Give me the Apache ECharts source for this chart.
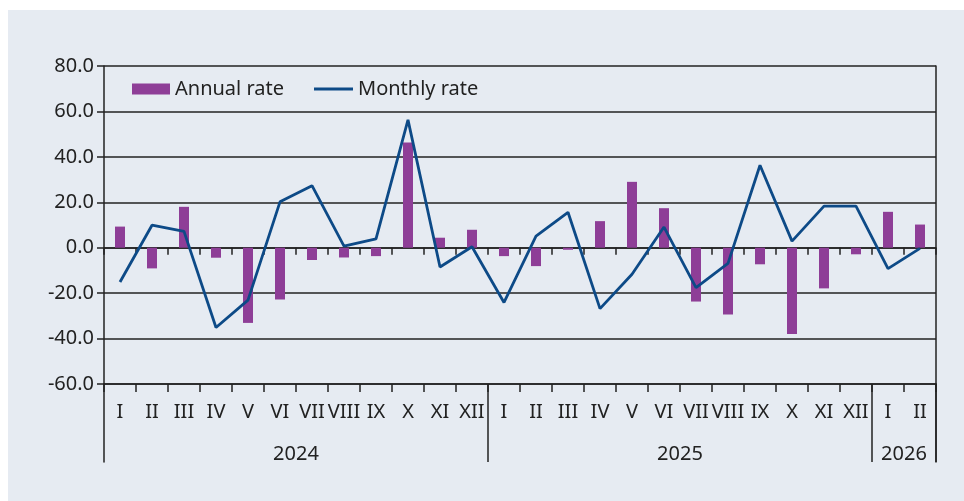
<!DOCTYPE html>
<html>
<head>
<meta charset="utf-8">
<script src="https://cdn.jsdelivr.net/npm/echarts@6/dist/echarts.min.js"></script>
<style>
    html, body { margin: 0; padding: 0; background: #ffffff; }
    .wrap { position: relative; width: 964px; height: 501px; }
    .bg { position: absolute; left: 8px; top: 10px; right: 0; bottom: 0; background: #e6ebf2; }
    #chart { position: absolute; left: 0; top: 0; width: 964px; height: 501px; }
</style>
</head>
<body>
<div class="wrap">
    <div class="bg"></div>
    <div id="chart"></div>
</div>
<script>
// 月份（罗马数字）和年份
const months = ['I', 'II', 'III', 'IV', 'V', 'VI', 'VII', 'VIII', 'IX', 'X', 'XI', 'XII',
    'I', 'II', 'III', 'IV', 'V', 'VI', 'VII', 'VIII', 'IX', 'X', 'XI', 'XII',
    'I', 'II'];
const yearLabels = ['2024', '2025', '2026'];
const yearLabelIndex = [5, 17, 24];
const yearBoundaryIndex = [12, 24];

const annualRate = [9.3, -9.1, 18.0, -4.4, -33.1, -22.8, -5.4, -4.3, -3.7, 46.3, 4.4, 7.9,
    -3.7, -8.1, -0.9, 11.7, 29.0, 17.4, -23.7, -29.4, -7.3, -38.0, -17.9, -2.9,
    15.8, 10.2];
const monthlyRate = [-15.1, 9.9, 7.2, -35.1, -23.1, 20.2, 27.3, 0.7, 3.9, 56.3, -8.5, 0.4,
    -24.1, 5.1, 15.6, -26.8, -11.7, 9.1, -17.6, -6.9, 36.3, 2.9, 18.3, 18.3,
    -9.2, -0.3];

const yTicks = { min: -60, max: 80, interval: 20 };

const textColor = '#222222';
const lineDark = '#222222';
const barColor = '#8e3e97';
const lineColor = '#0d4a87';
const fontFamily = '"Noto Sans", sans-serif';

let myChart = echarts.init(document.getElementById('chart'));

const yearCategory = months.map((m, i) => {
    const k = yearLabelIndex.indexOf(i);
    return k >= 0 ? yearLabels[k] : '';
});

const legendText = { fontSize: 20, color: textColor, fontFamily: fontFamily };

let option = {
    animation: false,
    textStyle: { fontFamily: fontFamily, color: textColor },
    legend: [
        {
            left: 127,
            top: 74,
            itemWidth: 38,
            itemHeight: 11,
            itemGap: 7,
            textStyle: legendText,
            data: [{ name: 'Annual rate', icon: 'rect' }]
        },
        {
            left: 309,
            top: 74,
            itemWidth: 39,
            itemHeight: 3,
            textStyle: legendText,
            data: [{ name: 'Monthly rate', icon: 'rect', itemStyle: { color: lineColor } }]
        }
    ],
    grid: [
        { left: 104, right: 28, top: 66, height: 318 },
        { left: 104, right: 28, top: 384, height: 78 }
    ],
    xAxis: [
        {
            type: 'category',
            gridIndex: 0,
            data: months,
            position: 'bottom',
            axisLine: { onZero: false, lineStyle: { color: lineDark, width: 1.5 } },
            axisTick: { show: true, length: 8, lineStyle: { color: lineDark, width: 1.5 } },
            axisLabel: { color: textColor, fontSize: 20, margin: 18, interval: 0, fontFamily: fontFamily }
        },
        {
            type: 'category',
            gridIndex: 0,
            data: months,
            position: 'bottom',
            axisLine: { onZero: true, lineStyle: { color: lineDark, width: 1.5 } },
            axisTick: { show: true, length: 7, lineStyle: { color: lineDark, width: 1.5 } },
            axisLabel: { show: false }
        },
        {
            type: 'category',
            gridIndex: 1,
            data: yearCategory,
            position: 'bottom',
            axisLine: { show: false },
            axisTick: { show: false },
            splitLine: {
                show: true,
                interval: (index) => yearBoundaryIndex.indexOf(index) >= 0,
                lineStyle: { color: lineDark, width: 1.5 }
            },
            axisLabel: {
                inside: true,
                interval: (index) => yearLabelIndex.indexOf(index) >= 0,
                color: textColor,
                fontSize: 20,
                margin: -2,
                padding: [0, 0, 0, 32],
                fontFamily: fontFamily
            }
        }
    ],
    yAxis: [
        {
            type: 'value',
            gridIndex: 0,
            min: yTicks.min,
            max: yTicks.max,
            interval: yTicks.interval,
            axisLine: { show: true, lineStyle: { color: lineDark, width: 1.5 } },
            axisTick: { show: true, length: 7, lineStyle: { color: lineDark, width: 1.5 } },
            axisLabel: {
                color: textColor,
                fontSize: 20,
                margin: 10,
                fontFamily: fontFamily,
                formatter: (v) => v.toFixed(1)
            },
            splitLine: { show: true, lineStyle: { color: lineDark, width: 1.5 } }
        },
        {
            type: 'value',
            gridIndex: 0,
            position: 'right',
            min: yTicks.min,
            max: yTicks.max,
            interval: yTicks.interval,
            axisLine: { show: true, lineStyle: { color: lineDark, width: 1.5 } },
            axisTick: { show: false },
            axisLabel: { show: false },
            splitLine: { show: false }
        },
        {
            type: 'value',
            gridIndex: 1,
            min: 0,
            max: 1,
            axisLine: { show: true, lineStyle: { color: lineDark, width: 1.5 } },
            axisTick: { show: false },
            axisLabel: { show: false },
            splitLine: { show: false }
        },
        {
            type: 'value',
            gridIndex: 1,
            position: 'right',
            min: 0,
            max: 1,
            axisLine: { show: true, lineStyle: { color: lineDark, width: 1.5 } },
            axisTick: { show: false },
            axisLabel: { show: false },
            splitLine: { show: false }
        }
    ],
    series: [
        {
            name: 'Annual rate',
            type: 'bar',
            xAxisIndex: 0,
            yAxisIndex: 0,
            barWidth: 10,
            itemStyle: { color: barColor },
            data: annualRate
        },
        {
            name: 'Monthly rate',
            type: 'line',
            xAxisIndex: 0,
            yAxisIndex: 0,
            symbol: 'none',
            lineStyle: { color: lineColor, width: 2.8 },
            itemStyle: { color: lineColor },
            data: monthlyRate
        }
    ]
};
myChart.setOption(option);
</script>
</body>
</html>
